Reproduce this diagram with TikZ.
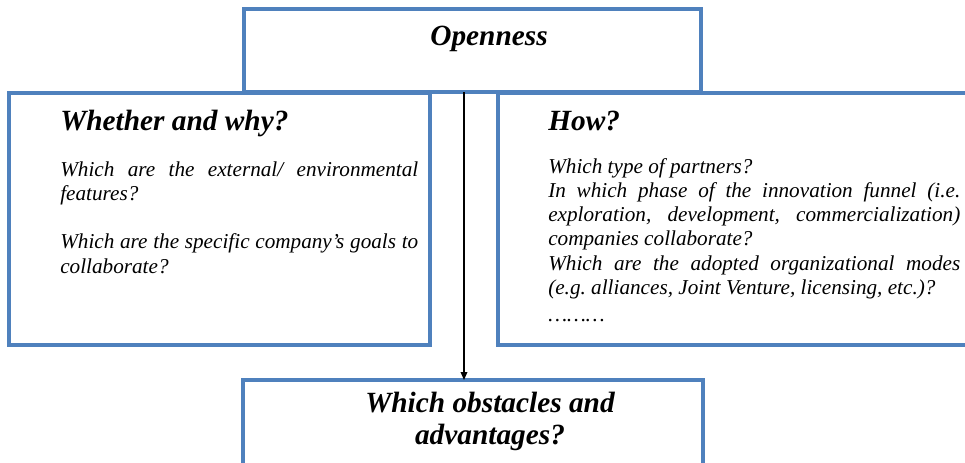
\documentclass[tikz,border=0pt]{standalone}
\usepackage{fontspec}
\setmainfont{Liberation Serif}
\usetikzlibrary{arrows.meta}
\definecolor{boxblue}{RGB}{79,129,189}
\setlength{\parindent}{0pt}
\setlength{\parskip}{0pt}
\begin{document}
\begin{tikzpicture}[x=0.75pt,y=-0.75pt,
  box/.style={draw=boxblue,line width=3pt,rectangle,inner sep=0pt,outer sep=0pt,anchor=north west},
  head/.style={font=\fontsize{22}{24}\selectfont\bfseries\itshape,inner sep=0pt},
  body/.style={font=\fontsize{15.9}{18.2}\selectfont\itshape,inner sep=0pt,align=justify,anchor=base west},
  conn/.style={draw=black,line width=0.9pt,-{Triangle[length=6pt,width=5pt]}}]
\useasboundingbox (0,0) rectangle (965,462);
\clip (0,0) rectangle (965,462);
% boxes
\node[box,minimum width=342.75pt,minimum height=62.25pt] (top) at (244,9) {};
\node[box,minimum width=315.75pt,minimum height=189pt] (left) at (9,93) {};
\node[box,minimum width=376.5pt,minimum height=189pt] (right) at (498,93) {};
\node[box,minimum width=345pt,minimum height=105pt] (bot) at (243,380) {};
% texts
\node[head,anchor=base] (topt) at (489,45) {Openness};
\node[head,anchor=base west] (lefth) at (60,130) {Whether and why?};
\node[head,anchor=base west] (righth) at (548,130) {How?};
\node[body,text width=268.5pt] (leftb) at (60,176) {Which are the external/ environmental\linebreak features?\par\vspace{\baselineskip}Which are the specific company’s goals to collaborate?};
\node[body,text width=309pt] (rightb) at (548,173) {Which type of partners?\par In which phase of the innovation funnel (i.e.\linebreak exploration, development, commercialization)\linebreak companies collaborate?\par Which are the adopted organizational modes\linebreak (e.g.\ alliances, Joint Venture, licensing, etc.)?\par\vspace{2pt}………};
\node[head,align=center,anchor=base] (bott) at (490,444) {Which obstacles and\\advantages?};
% connector
\coordinate (ax) at (464,0);
\draw[conn] (top.south -| ax) -- (bot.north -| ax);
\end{tikzpicture}
\end{document}
